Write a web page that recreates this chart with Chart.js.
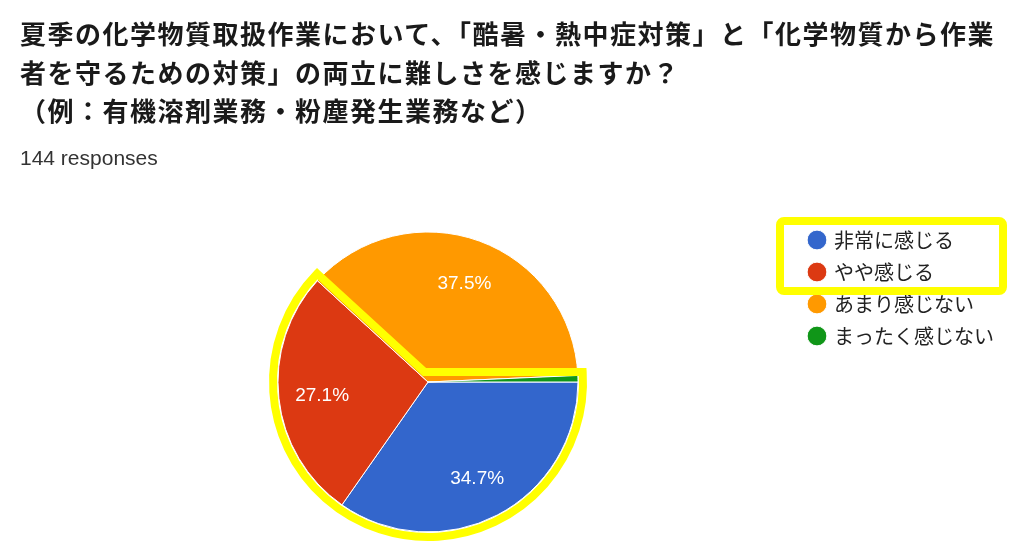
<!DOCTYPE html>
<html>
<head>
<meta charset="utf-8">
<script src="https://cdn.jsdelivr.net/npm/chart.js@4.4.0/dist/chart.umd.min.js"></script>
<style>
html, body { margin: 0; padding: 0; background: #fff; }
#wrap { position: relative; width: 1024px; height: 557px; overflow: hidden; }
#title { position: absolute; left: 20px; top: 14px; margin: 0; font: bold 26px/38.5px "Noto Sans CJK JP"; letter-spacing: 1.5px; color: #1a1a1a; }
#count { position: absolute; left: 20px; top: 146px; font: 21px "Liberation Sans", Arial, sans-serif; color: #333; }
canvas { position: absolute; left: 0; top: 0; }
</style>
</head>
<body>
<div id="wrap">
  <canvas id="myChart" width="1024" height="557"></canvas>
  <div id="title">夏季の化学物質取扱作業において、「酷暑・熱中症対策」と「化学物質から作業<br>者を守るための対策」の両立に難しさを感じますか？<br>（例：有機溶剤業務・粉塵発生業務など）</div>
  <div id="count">144 responses</div>
</div>
<script>
var labels = ["非常に感じる", "やや感じる", "あまり感じない", "まったく感じない"];
var counts = [50, 39, 54, 1];
var colors = ["#3366cc", "#dc3912", "#ff9900", "#109618"];

// percent text inside the slices
var pctLabels = {
  id: "pctLabels",
  afterDatasetsDraw: function(chart){
    var ctx = chart.ctx;
    var meta = chart.getDatasetMeta(0);
    var total = counts.reduce(function(a, b){ return a + b; }, 0);
    ctx.save();
    ctx.fillStyle = "#fff";
    ctx.font = '19px "Liberation Sans", Arial, sans-serif';
    ctx.textAlign = "center";
    ctx.textBaseline = "middle";
    meta.data.forEach(function(arc, i){
      var p = counts[i] / total * 100;
      if(p < 5) return;
      var mid = (arc.startAngle + arc.endAngle) / 2;
      var r = arc.outerRadius * 0.71;
      ctx.fillText(p.toFixed(1) + "%", arc.x + Math.cos(mid) * r, arc.y + Math.sin(mid) * r + 2);
    });
    ctx.restore();
  }
};

// yellow marker drawn over the chart
var highlight = {
  id: "highlight",
  afterDraw: function(chart){
    var ctx = chart.ctx;
    var red = chart.getDatasetMeta(0).data[1];
    var cx = red.x, cy = red.y, R = red.outerRadius + 5;
    var a = red.endAngle;
    var nx = Math.cos(a + Math.PI / 2), ny = Math.sin(a + Math.PI / 2);
    var off = 5, up = 10;
    var t = (-up - off * ny) / Math.sin(a);
    var C = {x: cx + t * Math.cos(a) + off * nx, y: cy - up};
    var tA = Math.sqrt(R * R - off * off);
    var A = {x: cx + tA * Math.cos(a) + off * nx, y: cy + tA * Math.sin(a) + off * ny};
    ctx.save();
    ctx.strokeStyle = "#ffff00";
    ctx.lineWidth = 8;
    ctx.lineJoin = "miter";
    ctx.miterLimit = 4;
    ctx.beginPath();
    ctx.moveTo(A.x, A.y);
    ctx.lineTo(C.x, C.y);
    ctx.arc(cx, cy, R, -Math.asin(up / R), a + Math.asin(off / R), false);
    ctx.closePath();
    ctx.stroke();

    var hb = chart.legend.legendHitBoxes;
    var x0 = hb[0].left - 30, x1 = hb[0].left + 193;
    var y0 = hb[0].top - 9, y1 = hb[1].top + hb[1].height + 9;
    ctx.lineJoin = "round";
    ctx.beginPath();
    ctx.roundRect(x0, y0, x1 - x0, y1 - y0, 4);
    ctx.stroke();
    ctx.restore();
  }
};

var ctx = document.getElementById("myChart").getContext("2d");
var pieChart = new Chart(ctx, {
  type: "pie",
  data: {
    labels: labels,
    datasets: [{
      data: counts,
      backgroundColor: colors,
      borderColor: "#fff",
      borderWidth: 1,
      radius: 150
    }]
  },
  options: {
    responsive: false,
    animation: false,
    rotation: 90,
    layout: { padding: { left: 58, right: 20, top: 218, bottom: 11 } },
    plugins: {
      legend: {
        position: "right",
        align: "start",
        labels: {
          usePointStyle: true,
          pointStyle: "circle",
          boxWidth: 14,
          boxHeight: 14,
          padding: 12,
          color: "#222",
          font: { size: 20, family: '"Noto Sans CJK JP"' }
        }
      },
      tooltip: { enabled: false }
    }
  },
  plugins: [pctLabels, highlight]
});
</script>
</body>
</html>
